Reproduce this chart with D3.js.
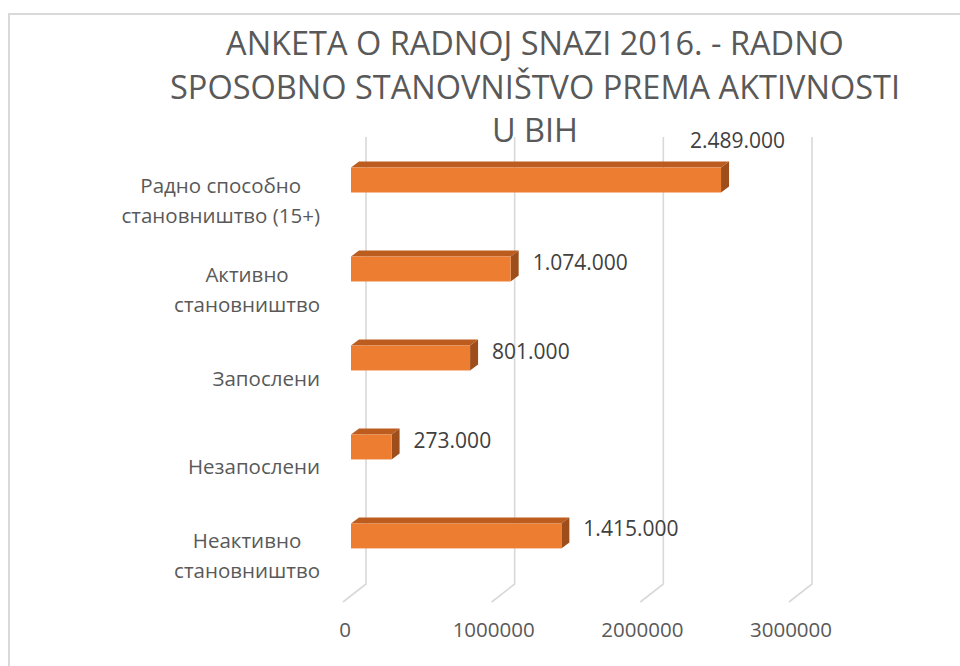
<!DOCTYPE html>
<html lang="sr">
<head>
<meta charset="utf-8">
<title>Anketa o radnoj snazi 2016</title>
<script src="https://cdn.jsdelivr.net/npm/d3@7"></script>
<style>
  body { margin: 0; background: #fff; }
  svg { display: block; font-family: "Open Sans", sans-serif; }
</style>
</head>
<body>
<script>
// data
var categories = [
  ["Радно способно", "становништво (15+)"],
  ["Активно", "становништво"],
  ["Запослени"],
  ["Незапослени"],
  ["Неактивно", "становништво"]
];
var values = [2489000, 1074000, 801000, 273000, 1415000];
var ticks = [0, 1000000, 2000000, 3000000];
var titleLines = [
  "ANKETA O RADNOJ SNAZI 2016. - RADNO",
  "SPOSOBNO STANOVNIŠTVO PREMA AKTIVNOSTI",
  "U BIH"
];

var w = 960, h = 666;

// 3D layout
var backX = 366, frontX = 343, barX = 351;
var floorY = 584, floorDY = 18, gridTop = 137;
var barDX = 8, barDY = 6;

var x = d3.scaleLinear().domain([0, 3000000]).range([0, 446]);
var y = d3.scaleBand()
  .domain(d3.range(categories.length))
  .range([132, floorY])
  .paddingInner(0.72)
  .paddingOuter(0.4);

var fmt = d => d3.format(",")(d).replace(/,/g, ".");

var svg = d3.select("body").append("svg")
  .attr("width", w)
  .attr("height", h);

// chart frame
svg.append("rect")
  .attr("x", 9).attr("y", 14)
  .attr("width", 1000).attr("height", 700)
  .attr("fill", "#fff")
  .attr("stroke", "#d9d9d9")
  .attr("stroke-width", 2);

// title
svg.append("g").selectAll("text")
  .data(titleLines)
  .enter().append("text")
  .attr("x", 535)
  .attr("y", (d, i) => 55 + i * 43.5)
  .attr("text-anchor", "middle")
  .attr("font-size", 32.5)
  .attr("fill", "#595959")
  .text(d => d);

// gridlines: back wall verticals + floor diagonals
var grid = svg.append("g")
  .attr("stroke", "#d9d9d9")
  .attr("stroke-width", 1.6)
  .attr("fill", "none");

grid.selectAll("path")
  .data(ticks)
  .enter().append("path")
  .attr("d", d => {
    var bx = backX + x(d), fx = frontX + x(d);
    return "M" + bx + "," + gridTop + "L" + bx + "," + floorY + "L" + fx + "," + (floorY + floorDY);
  });

// tick labels
svg.append("g").selectAll("text")
  .data(ticks)
  .enter().append("text")
  .attr("x", d => frontX + 2 + x(d))
  .attr("y", 637)
  .attr("text-anchor", "middle")
  .attr("font-size", 20.5)
  .attr("fill", "#595959")
  .text(d => d);

// bars
var bars = svg.append("g").selectAll("g")
  .data(values)
  .enter().append("g");

var bw = y.bandwidth();

// top face
bars.append("path")
  .attr("fill", "#bc5d1f")
  .attr("d", (d, i) => {
    var x0 = barX, x1 = barX + x(d), t = y(i);
    return "M" + x0 + "," + t + "L" + (x0 + barDX) + "," + (t - barDY) +
      "L" + (x1 + barDX) + "," + (t - barDY) + "L" + x1 + "," + t + "Z";
  });

// side face
bars.append("path")
  .attr("fill", "#9e4e1b")
  .attr("d", (d, i) => {
    var x1 = barX + x(d), t = y(i);
    return "M" + x1 + "," + t + "L" + (x1 + barDX) + "," + (t - barDY) +
      "L" + (x1 + barDX) + "," + (t + bw - barDY) + "L" + x1 + "," + (t + bw) + "Z";
  });

// front face
bars.append("rect")
  .attr("x", barX)
  .attr("y", (d, i) => y(i))
  .attr("width", d => x(d))
  .attr("height", bw)
  .attr("fill", "#ed7d31");

// value labels
var labelLimit = 790;
bars.append("text")
  .attr("font-size", 21)
  .attr("fill", "#404040")
  .text(d => fmt(d))
  .each(function(d, i) {
    var tw = this.getComputedTextLength();
    var lx = barX + x(d) + 22;
    var ly = y(i) + 13;
    if (lx + tw > labelLimit) {
      lx = labelLimit - 5 - tw;
      ly = y(i) - 20;
    }
    d3.select(this).attr("x", lx).attr("y", ly);
  });

// category labels: block right-aligned, lines centred on each other
var catRight = 320, lineH = 30;
svg.append("g").selectAll("g")
  .data(categories)
  .enter().append("g")
  .each(function(lines, i) {
    var g = d3.select(this);
    var cy = y(i) + bw / 2 + 20;
    var texts = g.selectAll("text")
      .data(lines)
      .enter().append("text")
      .attr("font-size", 20.5)
      .attr("fill", "#595959")
      .attr("text-anchor", "middle")
      .attr("y", (d, j) => cy + (j - (lines.length - 1) / 2) * lineH + 7.5)
      .text(d => d);
    var maxW = 0;
    texts.each(function() { maxW = Math.max(maxW, this.getComputedTextLength()); });
    texts.attr("x", catRight - maxW / 2);
  });
</script>
</body>
</html>
